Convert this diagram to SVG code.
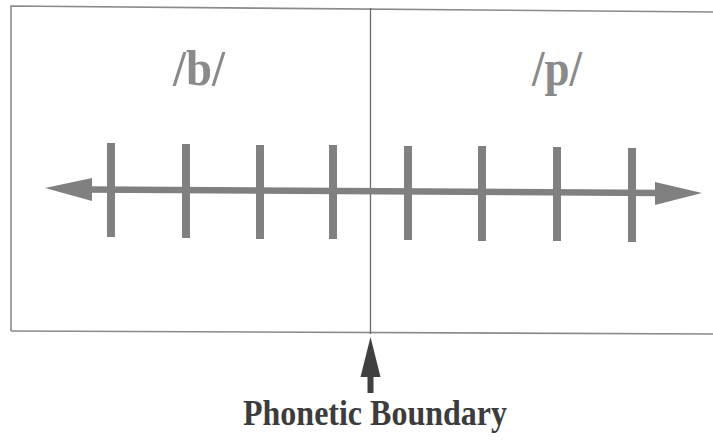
<svg xmlns="http://www.w3.org/2000/svg" width="713" height="440" viewBox="0 0 713 440">
  <style>
    .frame { fill: none; stroke: #8a8a8a; stroke-width: 1.6; }
    .divider { stroke: #6a6a6a; stroke-width: 1.3; }
    .phon { font-family: "Liberation Serif", "Times New Roman", serif; font-weight: bold; font-size: 51px; fill: #8a8a8a; text-anchor: middle; }
    .label { font-family: "Liberation Serif", "Times New Roman", serif; font-weight: bold; font-size: 36px; fill: #3c3c3c; text-anchor: middle; }
    .tick { fill: #808080; }
    .shaft { stroke: #808080; stroke-width: 6.5; fill: none; }
    .head { fill: #808080; }
    .bhead { fill: #404040; }
  </style>
  <rect width="713" height="440" fill="#ffffff"/>
  <g id="frame">
    <path class="frame" d="M11,331 L11,6 L713,12"/>
    <path class="frame" d="M11,331 L713,334"/>
    <line class="divider" x1="370.5" y1="8" x2="370.5" y2="334"/>
  </g>
  <g id="region-b">
    <text class="phon" x="199" y="85" textLength="52" lengthAdjust="spacingAndGlyphs">/b/</text>
  </g>
  <g id="region-p">
    <text class="phon" x="557" y="85" textLength="50" lengthAdjust="spacingAndGlyphs">/p/</text>
  </g>
  <g id="ticks">
    <rect class="tick" x="107" y="143" width="8" height="94"/>
    <rect class="tick" x="182" y="144" width="8" height="94"/>
    <rect class="tick" x="256" y="145" width="8" height="94"/>
    <rect class="tick" x="329" y="145" width="8" height="94"/>
    <rect class="tick" x="404" y="146" width="8" height="94"/>
    <rect class="tick" x="478" y="146" width="8" height="95"/>
    <rect class="tick" x="553" y="147" width="8" height="94"/>
    <rect class="tick" x="628" y="148" width="8" height="94"/>
  </g>
  <g id="connectors">
    <line class="shaft" x1="88" y1="189.5" x2="660" y2="193"/>
    <polygon class="head" points="45,188 92,178 92,201"/>
    <polygon class="head" points="702,193 655,182 655,205"/>
    <polygon class="bhead" points="370.5,337 380.5,377 360.5,377"/>
    <rect class="bhead" x="367.5" y="375" width="6" height="18"/>
  </g>
  <g id="boundary-label">
    <text class="label" x="375" y="425" textLength="264" lengthAdjust="spacingAndGlyphs">Phonetic Boundary</text>
  </g>
</svg>
